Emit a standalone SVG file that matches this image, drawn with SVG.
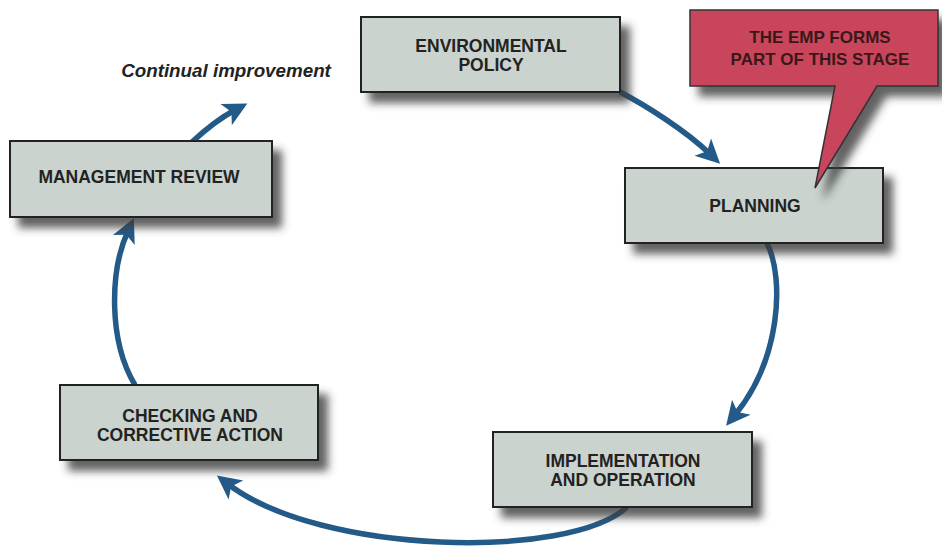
<svg xmlns="http://www.w3.org/2000/svg" width="942" height="549" viewBox="0 0 942 549">
<defs>
<filter id="sh" x="-10%" y="-20%" width="130%" height="160%">
<feDropShadow dx="9" dy="10" stdDeviation="4" flood-color="#3a3a3a" flood-opacity="0.8"/>
</filter>
<marker id="ah" markerUnits="userSpaceOnUse" viewBox="-12 -13 27 26" refX="0" refY="0" markerWidth="27" markerHeight="26" orient="auto">
<path d="M14,0 L-10,-12 L-4,0 L-10,12 Z" fill="#245a88"/>
</marker>
</defs>
<style>
.box{fill:#cad3cd;stroke:#222;stroke-width:2;filter:url(#sh)}
.lbl{font-family:"Liberation Sans",Arial,sans-serif;font-weight:bold;font-size:17.5px;fill:#222;text-anchor:middle}
.cl{font-family:"Liberation Sans",Arial,sans-serif;font-weight:bold;font-size:17px;fill:#3a1818;text-anchor:middle}
.arr{fill:none;stroke:#245a88;stroke-width:5.5;marker-end:url(#ah)}
</style>
<rect width="942" height="549" fill="#fff"/>
<g id="connectors">
<path class="arr" d="M620,92 C645,105 685,130 710,154"/>
<path class="arr" d="M767,243 C785,280 780,360 735,415"/>
<path class="arr" d="M627,507 C570,560 320,555 228,484"/>
<path class="arr" d="M135,385 C108,340 110,270 128,231"/>
<path class="arr" d="M192,142 C205,130 220,118 235,110"/>
</g>
<g id="environmental-policy">
<rect class="box" x="361" y="17" width="259" height="75"/>
<text class="lbl" x="491" y="52">ENVIRONMENTAL</text>
<text class="lbl" x="491" y="71">POLICY</text>
</g>
<g id="planning">
<rect class="box" x="625" y="168" width="258" height="75"/>
<text class="lbl" x="755" y="212">PLANNING</text>
</g>
<g id="implementation">
<rect class="box" x="493" y="432" width="259" height="75"/>
<text class="lbl" x="623" y="467">IMPLEMENTATION</text>
<text class="lbl" x="623" y="486">AND OPERATION</text>
</g>
<g id="checking">
<rect class="box" x="60" y="385" width="258" height="75"/>
<text class="lbl" x="190" y="422">CHECKING AND</text>
<text class="lbl" x="190" y="441">CORRECTIVE ACTION</text>
</g>
<g id="management-review">
<rect class="box" x="10" y="141" width="262" height="76"/>
<text class="lbl" x="139" y="183">MANAGEMENT REVIEW</text>
</g>
<g id="continual-improvement">
<text x="226" y="77" style="font-family:'Liberation Sans',Arial,sans-serif;font-weight:bold;font-style:italic;font-size:18.8px;fill:#222;text-anchor:middle">Continual improvement</text>
</g>
<g id="callout">
<path d="M690,10 H938 V86 H877 L815,188 L835,86 H690 Z" fill="#c8445c" stroke="#333" stroke-width="1.5" filter="url(#sh)"/>
<text class="cl" x="820" y="43">THE EMP FORMS</text>
<text class="cl" x="820" y="65">PART OF THIS STAGE</text>
</g>
</svg>
